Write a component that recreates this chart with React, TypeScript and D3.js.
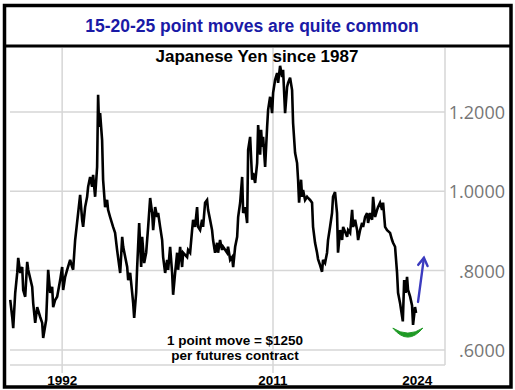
import * as d3 from 'd3'

type Pt = [number, number]

// Japanese Yen futures (decimal year, price)
const yen1987to1999: Pt[] = [
  [1987.32, 0.726], [1987.5, 0.683], [1987.59, 0.655], [1987.77, 0.744], [1987.95, 0.794], [1988.04, 0.832],
  [1988.22, 0.794], [1988.4, 0.809], [1988.49, 0.751], [1988.67, 0.734], [1988.85, 0.822], [1988.94, 0.802],
  [1989.3, 0.759], [1989.39, 0.718], [1989.57, 0.668], [1989.75, 0.708], [1990.02, 0.683], [1990.2, 0.668],
  [1990.29, 0.63], [1990.56, 0.676], [1990.74, 0.802], [1990.92, 0.744], [1991.1, 0.759], [1991.19, 0.708],
  [1991.37, 0.726], [1991.55, 0.734], [1991.82, 0.776], [1992.0, 0.809], [1992.09, 0.751], [1992.27, 0.784],
  [1992.45, 0.802], [1992.72, 0.827], [1992.9, 0.809], [1992.99, 0.802], [1993.17, 0.877], [1993.44, 0.945],
  [1993.62, 0.991], [1993.8, 0.928], [1993.89, 0.91], [1994.07, 0.96], [1994.25, 0.986], [1994.34, 1.011],
  [1994.52, 1.036], [1994.7, 1.011], [1994.79, 1.041], [1994.97, 0.986], [1995.15, 1.061], [1995.24, 1.243],
  [1995.33, 1.162], [1995.42, 1.197], [1995.6, 1.129], [1995.69, 1.029], [1995.87, 0.96], [1996.05, 0.978],
  [1996.14, 0.953], [1996.32, 0.935], [1996.59, 0.91], [1996.77, 0.895], [1996.95, 0.852], [1997.23, 0.794],
  [1997.41, 0.885], [1997.5, 0.86], [1997.86, 0.809], [1997.95, 0.776], [1998.13, 0.794], [1998.31, 0.744],
  [1998.4, 0.718], [1998.49, 0.681], [1998.67, 0.744], [1998.76, 0.809], [1998.94, 0.92], [1999.12, 0.809],
  [1999.21, 0.885], [1999.39, 0.819], [1999.57, 0.845], [1999.75, 0.91], [1999.93, 0.983],
]

const yen2000to2011: Pt[] = [
  [2000.11, 0.945], [2000.2, 0.902], [2000.38, 0.96], [2000.56, 0.935], [2000.65, 0.945], [2000.83, 0.91],
  [2001.01, 0.877], [2001.1, 0.834], [2001.28, 0.794], [2001.46, 0.827], [2001.55, 0.802], [2001.73, 0.86],
  [2001.91, 0.794], [2002.0, 0.739], [2002.18, 0.794], [2002.36, 0.845], [2002.45, 0.802], [2002.63, 0.86],
  [2002.81, 0.809], [2002.9, 0.845], [2003.26, 0.834], [2003.35, 0.852], [2003.53, 0.845], [2003.71, 0.902],
  [2003.8, 0.928], [2003.98, 0.91], [2004.16, 0.96], [2004.25, 0.91], [2004.43, 0.902], [2004.61, 0.928],
  [2004.7, 0.91], [2004.88, 0.971], [2005.06, 0.978], [2005.15, 0.953], [2005.33, 0.928], [2005.51, 0.902],
  [2005.6, 0.877], [2005.78, 0.845], [2005.96, 0.87], [2006.05, 0.845], [2006.23, 0.877], [2006.41, 0.852],
  [2006.5, 0.86], [2006.86, 0.845], [2006.95, 0.86], [2007.14, 0.827], [2007.32, 0.834], [2007.41, 0.809],
  [2007.59, 0.86], [2007.77, 0.885], [2007.86, 0.935], [2008.04, 0.971], [2008.22, 1.036], [2008.31, 0.945],
  [2008.49, 0.96], [2008.67, 0.92], [2008.76, 1.104], [2008.94, 1.137], [2009.12, 1.029], [2009.21, 1.046],
  [2009.39, 1.021], [2009.57, 1.071], [2009.66, 1.167], [2009.84, 1.092], [2009.93, 1.155], [2010.02, 1.112],
  [2010.11, 1.137], [2010.29, 1.061], [2010.47, 1.162], [2010.56, 1.205], [2010.74, 1.238], [2010.92, 1.197],
  [2011.01, 1.248], [2011.19, 1.281], [2011.37, 1.298], [2011.46, 1.273], [2011.64, 1.316], [2011.82, 1.288],
  [2011.91, 1.306],
]

const yen2012to2023: Pt[] = [
  [2012.09, 1.197], [2012.27, 1.263], [2012.36, 1.273], [2012.54, 1.286], [2012.72, 1.255], [2012.81, 1.172],
  [2012.99, 1.097], [2013.17, 1.071], [2013.26, 1.029], [2013.35, 0.971], [2013.53, 1.029], [2013.62, 0.986],
  [2013.71, 1.003], [2013.89, 0.978], [2014.07, 0.986], [2014.16, 0.983], [2014.34, 0.978], [2014.52, 0.971],
  [2014.61, 0.91], [2014.79, 0.87], [2014.97, 0.845], [2015.06, 0.829], [2015.24, 0.814], [2015.42, 0.797],
  [2015.51, 0.827], [2015.69, 0.819], [2015.87, 0.845], [2015.96, 0.877], [2016.14, 0.91], [2016.32, 0.945],
  [2016.41, 0.986], [2016.59, 0.998], [2016.77, 0.945], [2016.86, 0.845], [2017.05, 0.902], [2017.23, 0.877],
  [2017.32, 0.91], [2017.68, 0.885], [2017.77, 0.902], [2017.95, 0.895], [2018.13, 0.953], [2018.22, 0.91],
  [2018.4, 0.928], [2018.58, 0.902], [2018.67, 0.877], [2018.85, 0.902], [2019.03, 0.92], [2019.12, 0.91],
  [2019.3, 0.935], [2019.48, 0.945], [2019.57, 0.92], [2019.75, 0.945], [2019.93, 0.928], [2020.02, 0.986],
  [2020.2, 0.935], [2020.38, 0.953], [2020.47, 0.96], [2020.65, 0.971], [2020.83, 0.953], [2020.92, 0.971],
  [2021.1, 0.91], [2021.28, 0.902], [2021.55, 0.895], [2021.73, 0.877], [2021.82, 0.87], [2022.0, 0.86],
  [2022.18, 0.794], [2022.27, 0.744], [2022.45, 0.718], [2022.7, 0.672], [2022.82, 0.776], [2022.95, 0.744],
  [2023.08, 0.784], [2023.17, 0.751], [2023.35, 0.735], [2023.53, 0.712], [2023.62, 0.663], [2023.8, 0.708],
  [2023.89, 0.693],
]

const gridYears = [1992, 2011]
const yearLabels = [1992, 2011, 2024]
const priceTicks = [0.6, 0.8, 1.0, 1.2]

const headline = '15-20-25 point moves are quite common'
const chartTitle = 'Japanese Yen since 1987'
const noteLines = ['1 point move = $1250', 'per futures contract']

const W = 515
const H = 390
const plot = { left: 10, right: 445, top: 48, bottom: 365 }
const boldFont = '"Liberation Sans", Arial, sans-serif'

export default function App() {
  const series = [...yen1987to1999, ...yen2000to2011, ...yen2012to2023]

  const x = d3.scaleLinear().domain([1987.3, 2026.5]).range([plot.left, plot.right])
  const y = d3.scaleLinear().domain([0.562, 1.361]).range([plot.bottom, plot.top])
  const line = d3
    .line<Pt>()
    .x((d) => x(d[0]))
    .y((d) => y(d[1]))

  const fmt = (v: number) => d3.format('.4f')(v).replace(/^0/, '')

  // green "bottom" smile under the 2022-23 lows
  const ax0 = x(2021.8)
  const ax1 = x(2024.5)
  const axm = (ax0 + ax1) / 2
  const ay = y(0.655)
  const smile = `M${ax0},${ay} Q${axm},${ay + 10} ${ax1},${ay} Q${axm},${ay + 18} ${ax0},${ay} Z`

  // blue arrow pointing up
  const tail: Pt = [x(2024.07), y(0.721)]
  const tip: Pt = [x(2024.6), y(0.832)]
  const ang = Math.atan2(tail[1] - tip[1], tail[0] - tip[0])
  const barb = (a: number): Pt => [tip[0] + 9 * Math.cos(ang + a), tip[1] + 9 * Math.sin(ang + a)]
  const b1 = barb(0.55)
  const b2 = barb(-0.55)

  return (
    <svg
      width={W}
      height={H}
      viewBox={`0 0 ${W} ${H}`}
      style={{ position: 'absolute', left: 0, top: 0, background: '#fff' }}
    >
      {/* grid */}
      <g stroke="#d6d6d6" strokeWidth={1.5}>
        {priceTicks.map((t) => (
          <line key={t} x1={plot.left} x2={plot.right} y1={y(t)} y2={y(t)} />
        ))}
        <line x1={plot.left} x2={plot.right} y1={plot.bottom} y2={plot.bottom} />
        {gridYears.map((yr) => (
          <line key={yr} x1={x(yr)} x2={x(yr)} y1={plot.top} y2={plot.bottom + 8} />
        ))}
        <line x1={plot.right} x2={plot.right} y1={plot.top} y2={plot.bottom} />
      </g>

      {/* right price axis */}
      {priceTicks.map((t) => (
        <text
          key={t}
          x={505}
          y={y(t)}
          textAnchor="end"
          dominantBaseline="central"
          fontFamily='"Open Sans", sans-serif'
          fontSize={18}
          fill="#767676"
        >
          {fmt(t)}
        </text>
      ))}

      {/* year labels */}
      {yearLabels.map((yr) => (
        <text
          key={yr}
          x={x(yr)}
          y={385}
          textAnchor="middle"
          fontFamily={boldFont}
          fontWeight="bold"
          fontSize={13.5}
          fill="#000"
        >
          {yr}
        </text>
      ))}

      <path d={line(series) ?? ''} fill="none" stroke="#000" strokeWidth={2.6} strokeLinejoin="miter" strokeMiterlimit={3} />

      <path d={smile} fill="#1f9a25" stroke="#1f9a25" strokeWidth={1} />
      <g stroke="#3b3bbf" strokeWidth={2.4} fill="none" strokeLinecap="round">
        <line x1={tail[0]} y1={tail[1]} x2={tip[0]} y2={tip[1]} />
        <polyline points={`${b1[0]},${b1[1]} ${tip[0]},${tip[1]} ${b2[0]},${b2[1]}`} />
      </g>

      {/* chart title */}
      <text x={257} y={62} textAnchor="middle" fontFamily={boldFont} fontWeight="bold" fontSize={17} fill="#000">
        {chartTitle}
      </text>

      {/* contract note */}
      {noteLines.map((t, i) => (
        <text
          key={t}
          x={235}
          y={345 + i * 15}
          textAnchor="middle"
          fontFamily={boldFont}
          fontWeight="bold"
          fontSize={13.5}
          fill="#000"
        >
          {t}
        </text>
      ))}

      {/* headline box */}
      <text x={252} y={32} textAnchor="middle" fontFamily={boldFont} fontWeight="bold" fontSize={17.5} fill="#1a1aa6">
        {headline}
      </text>
      <line x1={3} x2={512} y1={46} y2={46} stroke="#000" strokeWidth={3} />
      <rect x={4.5} y={5.5} width={506.5} height={381.5} fill="none" stroke="#000" strokeWidth={3.5} />
    </svg>
  )
}
